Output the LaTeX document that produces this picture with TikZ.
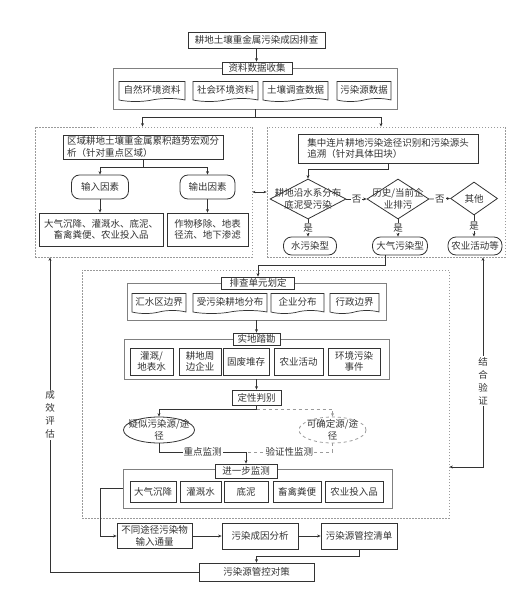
\documentclass[tikz,border=0pt]{standalone}
\usepackage{fontspec}
\setmainfont{Noto Sans CJK SC}
\usepackage{xcolor}
\usepackage{tikz}
\usetikzlibrary{arrows.meta,positioning,shapes.geometric,shapes.symbols,calc}
\definecolor{ink}{HTML}{333333}
\definecolor{zonegray}{HTML}{9A9A9A}

\tikzset{
  box/.style={draw=ink, line width=0.8pt, inner sep=1pt, align=center},
  docbox/.style={tape, tape bend top=none, tape bend height=3pt, draw=ink, line width=0.7pt, inner sep=1pt},
  roundbox/.style={box, rounded corners=8pt},
  decide/.style={diamond, draw=ink, line width=0.8pt, inner sep=0pt},
  pathoval/.style={ellipse, draw=ink, line width=0.8pt, inner sep=0pt},
  zone/.style={draw=zonegray, dash pattern=on 1.5pt off 1.5pt, line width=0.8pt},
  frame/.style={draw=gray, line width=0.8pt},
  tag/.style={box, fill=white},
  link/.style={draw=ink, line width=0.7pt},
  arr/.style={link, -{Stealth[length=3.5pt,width=3pt]}},
  onlabel/.style={fill=white, inner sep=1pt},
  vlabel/.style={fill=white, inner sep=1pt, align=center, font=\fontsize{9.5}{13}\selectfont},
}

\begin{document}
\begin{tikzpicture}[x=1pt, y=-1pt, every node/.style={font=\fontsize{9.5}{11.5}\selectfont, text=ink}]
\useasboundingbox (0,0) rectangle (530,599);

% top: investigation and data collection
\node[box, minimum width=137pt, minimum height=16pt] (title) at (256.5,40) {耕地土壤重金属污染成因排查};
\node[frame, minimum width=284pt, minimum height=41pt] (collect) at (255,88.5) {};
\node[tag, minimum width=70pt, minimum height=12pt] (collecttag) at (257,68) {资料数据收集};
\draw[arr] (title.south) -- (title.south |- collecttag.north);
\foreach \x/\w/\txt [count=\i] in {152/66/自然环境资料, 225.5/65/社会环境资料, 295.5/65/土壤调查数据, 364/54/污染源数据}
  \node[docbox, minimum width=\w pt, minimum height=20pt] (data\i) at (\x,90) {\txt};

% two analysis zones
\node[zone, minimum width=217pt, minimum height=130pt] (leftzone) at (143.5,192) {};
\node[zone, minimum width=238pt, minimum height=130pt] (rightzone) at (386,192) {};
\draw[link] (collect.south) -- ++(0,8) coordinate (fork1);
\draw[arr] (fork1) -| ([xshift=-1pt]leftzone.north);
\draw[arr] (fork1) -| ([xshift=-5pt]rightzone.north);
\draw[link, {Stealth[length=3pt,width=2.5pt]}-{Stealth[length=3pt,width=2.5pt]}] (leftzone.east) -- (rightzone.west);

% left zone
\node[box, minimum width=160pt, minimum height=24pt, align=left] (regional) at (143,147) {区域耕地土壤重金属累积趋势宏观分\\析（针对重点区域）};
\node[roundbox, minimum width=57pt, minimum height=24pt] (inflow) at (100,187) {输入因素};
\node[roundbox, minimum width=55pt, minimum height=24pt] (outflow) at (207.5,187) {输出因素};
\node[box, minimum width=124pt, minimum height=33pt] (inlist) at (101,229.5) {大气沉降、灌溉水、底泥、\\畜禽粪便、农业投入品};
\node[box, minimum width=81pt, minimum height=33pt] (outlist) at (207.5,229.5) {作物移除、地表\\径流、地下渗滤};
\draw[link] (regional.south) -- ++(0,8) coordinate (fork2);
\draw[arr] (fork2) -| (inflow.north);
\draw[arr] (fork2) -| (outflow.north);
\draw[arr] (inflow.south) -- (inflow.south |- inlist.north);
\draw[arr] (outflow.south) -- (outflow.south |- outlist.north);

% right zone
\node[box, minimum width=180pt, minimum height=29pt, align=left] (trace) at (388,148.5) {集中连片耕地污染途径识别和污染源头\\追溯（针对具体田块）};
\node[decide, minimum width=76pt, minimum height=40pt] (d1) at (308,199) {};
\node[decide, minimum width=62pt, minimum height=40pt] (d2) at (398,199) {};
\node[decide, minimum width=47pt, minimum height=33pt] (d3) at (474,198.5) {};
\node[align=center, inner sep=0pt] (d1t) at (d1.center) {耕地沿水系分布\\底泥受污染};
\node[align=center, inner sep=0pt] (d2t) at (d2.center) {历史/当前企\\业排污};
\node[inner sep=0pt] (d3t) at (d3.center) {其他};
\node[roundbox, minimum width=53pt, minimum height=18pt] (water) at (310,246) {水污染型};
\node[roundbox, minimum width=55pt, minimum height=18pt] (air) at (400,246) {大气污染型};
\node[roundbox, minimum width=54pt, minimum height=18pt] (farm) at (475,246) {农业活动等};
\draw[arr] (trace.south) -- ++(0,6) -| (d1.north);
\draw[arr] (d1.east) -- node[onlabel]{否} (d2.west);
\draw[arr] (d2.east) -- node[onlabel]{否} (d3.west);
\draw[arr] (d1.south) -- node[onlabel]{是} (d1.south |- water.north);
\draw[arr] (d2.south) -- node[onlabel]{是} (d2.south |- air.north);
\draw[arr] (d3.south) -- node[onlabel]{是} (d3.south |- farm.north);

% field review zone
\node[zone, minimum width=367pt, minimum height=248pt] (review) at (265.5,394) {};

\node[frame, minimum width=259pt, minimum height=37pt] (unitframe) at (256.5,301.5) {};
\node[tag, minimum width=73pt, minimum height=12pt] (unittag) at (258,283) {排查单元划定};
\draw[arr] ([xshift=-15pt]air.south) -- ++(0,10) -| (unittag.north);
\foreach \x/\w/\txt [count=\i] in {159/54/汇水区边界, 230/74/受污染耕地分布, 297.5/53/企业分布, 354.5/49/行政边界}
  \node[docbox, minimum width=\w pt, minimum height=20pt] (unit\i) at (\x,302) {\txt};

\node[frame, minimum width=265pt, minimum height=40pt] (surveyframe) at (256.5,359) {};
\node[tag, minimum width=47pt, minimum height=12pt] (surveytag) at (256.5,339) {实地踏勘};
\draw[arr] (unitframe.south) -- (surveytag.north);
\foreach \x/\w/\txt [count=\i] in {151.5/43/{灌溉/\\地表水}, 200/42/{耕地周\\边企业}, 246/46/固废堆存, 298.5/49/农业活动, 354/52/{环境污染\\事件}}
  \node[box, minimum width=\w pt, minimum height=27pt] (site\i) at (\x,361.5) {\txt};

\node[box, minimum width=49pt, minimum height=15pt] (judge) at (256.5,397.5) {定性判别};
\draw[arr] (surveyframe.south) -- (judge.north);
\node[pathoval, minimum width=71pt, minimum height=26pt] (e1) at (159,430) {};
\node[pathoval, draw=zonegray, dashed, minimum width=67pt, minimum height=26pt] (e2) at (332.5,430) {};
\node[align=center, inner sep=0pt] (e1t) at (e1.center) {疑似污染源/途\\径};
\node[align=center, inner sep=0pt] (e2t) at (e2.center) {可确定源/途\\径};
\draw[link] (judge.south) -- ++(0,4) coordinate (fork3);
\draw[arr] (fork3) -| (e1.north);
\draw[arr, draw=zonegray, dashed] (fork3) -| (e2.north);

\node[frame, minimum width=269pt, minimum height=39pt] (monitorframe) at (257.5,488.5) {};
\node[tag, minimum width=62pt, minimum height=14pt] (monitortag) at (246,471) {进一步监测};
\coordinate (merge) at (246,452);
\draw[link] (e1.south) |- node[onlabel, pos=0.75]{重点监测} (merge);
\draw[link, draw=zonegray, dashed] (e2.south) |- node[onlabel, pos=0.75]{验证性监测} (merge);
\draw[arr] (merge) -- (monitortag.north);
\foreach \x/\w/\txt [count=\i] in {153/46/大气沉降, 200.5/41/灌溉水, 246/44/底泥, 297/48/畜禽粪便, 354/58/农业投入品}
  \node[box, minimum width=\w pt, minimum height=21pt] (monitor\i) at (\x,491.5) {\txt};

% bottom chain
\node[box, minimum width=75pt, minimum height=25pt] (flux) at (154.5,536) {不同途径污染物\\输入通量};
\node[box, minimum width=76pt, minimum height=26pt] (cause) at (260,536) {污染成因分析};
\node[box, minimum width=76pt, minimum height=26pt] (list) at (359,536) {污染源管控清单};
\node[box, minimum width=115pt, minimum height=18pt] (measure) at (256.5,572) {污染源管控对策};
\draw[arr] (monitorframe.west) -- ++(-22,0) |- (flux.west);
\draw[arr] (flux.east) -- (cause.west);
\draw[arr] (cause.east) -- (list.west);
\draw[arr] (list.south) -- ++(0,7) -| (measure.north);

% feedback loops
\coordinate (evalcorner) at (50,572);
\draw[arr] (measure.west) -- (evalcorner) -- node[vlabel]{成\\效\\评\\估} (evalcorner |- leftzone.south);
\coordinate (checkcorner) at (483,467);
\draw[link, {Stealth[length=3.5pt,width=3pt]}-{Stealth[length=3.5pt,width=3pt]}] (checkcorner -| review.east) -- (checkcorner) -- node[vlabel, pos=0.41]{结\\合\\验\\证} (checkcorner |- rightzone.south);
\end{tikzpicture}
\end{document}
